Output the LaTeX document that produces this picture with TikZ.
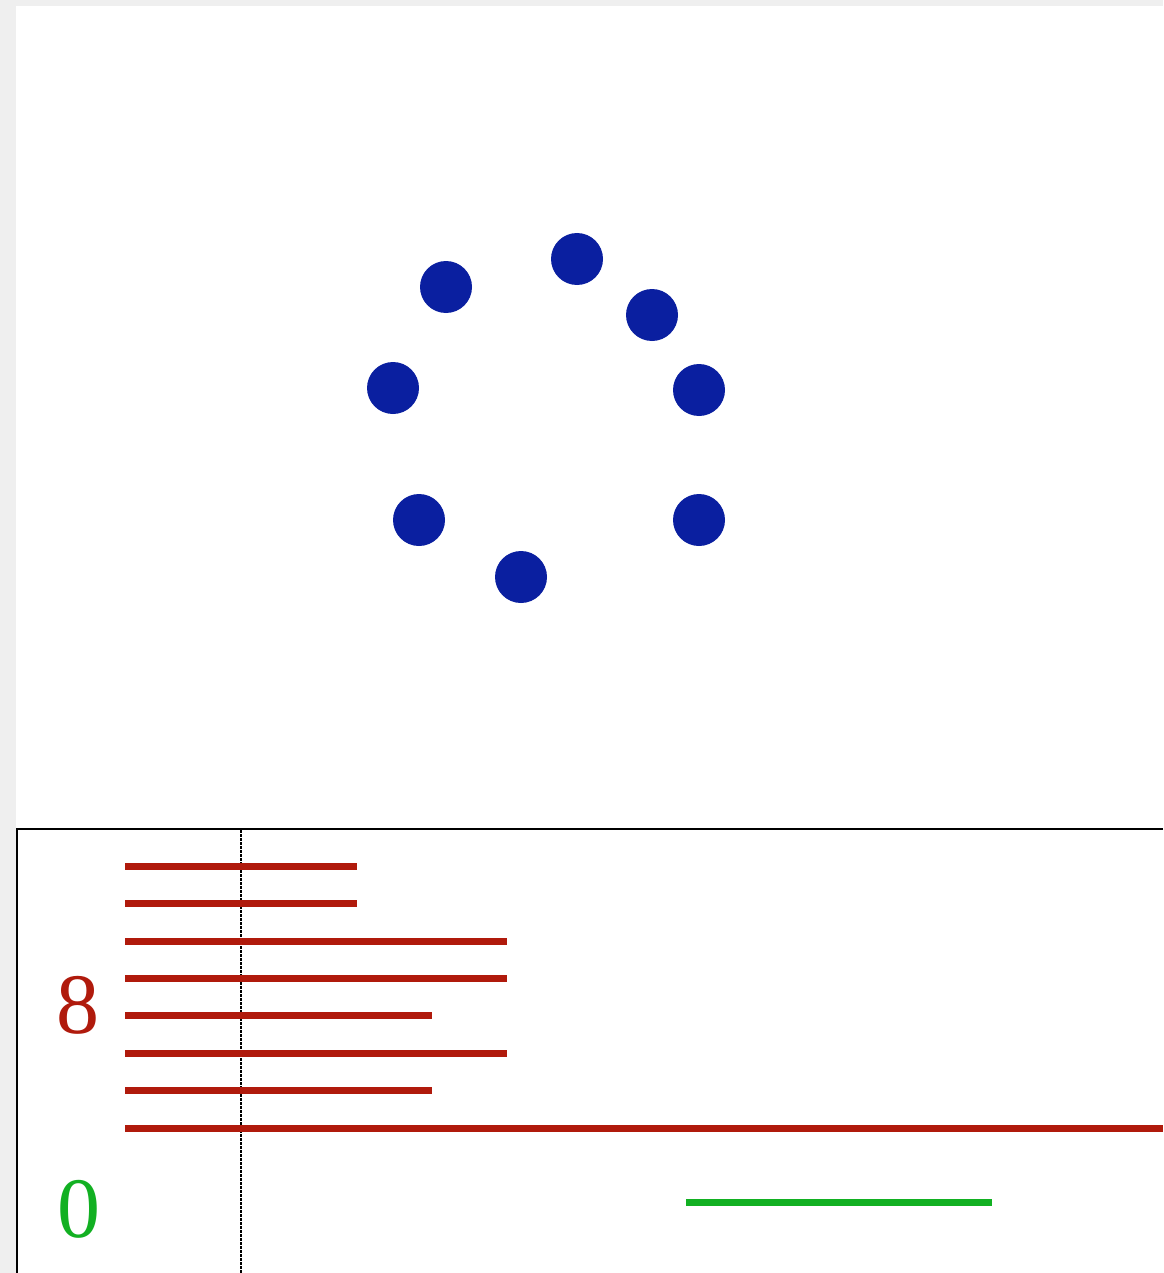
\documentclass[tikz,border=0pt]{standalone}
\usepackage{fontspec}
\setmainfont{Liberation Serif}
\usetikzlibrary{positioning}
\definecolor{Paper}{HTML}{EFEFEF}
\definecolor{DotBlue}{HTML}{0A1FA0}
\definecolor{BarRed}{HTML}{B01A0C}
\definecolor{BarGreen}{HTML}{12B022}

\begin{document}
\begin{tikzpicture}[x=1pt,y=-1pt,
  dot/.style={circle,fill=DotBlue,minimum size=52pt,inner sep=0pt},
  bar/.style={line width=7pt,color=BarRed},
  lbl/.style={font=\fontsize{86}{86}\selectfont,inner sep=0pt}]
\useasboundingbox (0,0) rectangle (1163,1273);
\fill[Paper] (0,0) rectangle (1163,1273);
\fill[white] (16,6) rectangle (1163,1273);
% ring of dots
\foreach \n/\x/\y in {a/577/259,b/446/287,c/652/315,d/393/388,e/699/390,f/419/520,g/699/520,h/521/577}
  \node[dot] (dot\n) at (\x,\y) {};
% lower panel
\draw[line width=2.5pt] (1163,829) -- (17,829) -- (17,1273);
\coordinate (tick top) at (241,830);
\coordinate (tick bottom) at (241,1273);
\draw[line width=1.4pt,dash pattern=on 2.5pt off 1.5pt] (tick top) -- (tick bottom);
\foreach \i/\y/\e in {1/866/357,2/903/357,3/941/507,4/978/507,5/1015/432,6/1053/507,7/1090/432,8/1128/1163}{
  \coordinate (bar\i s) at (125,\y);
  \coordinate (bar\i e) at (\e,\y);
  \draw[bar] (bar\i s) -- (bar\i e);}
\coordinate (zero s) at (686,1202);
\coordinate (zero e) at (992,1202);
\draw[bar,color=BarGreen] (zero s) -- (zero e);
\node[lbl,text=BarRed] (eight) at (78,1005) {8};
\node[lbl,text=BarGreen] (zero) at (79,1209) {0};
\end{tikzpicture}
\end{document}
